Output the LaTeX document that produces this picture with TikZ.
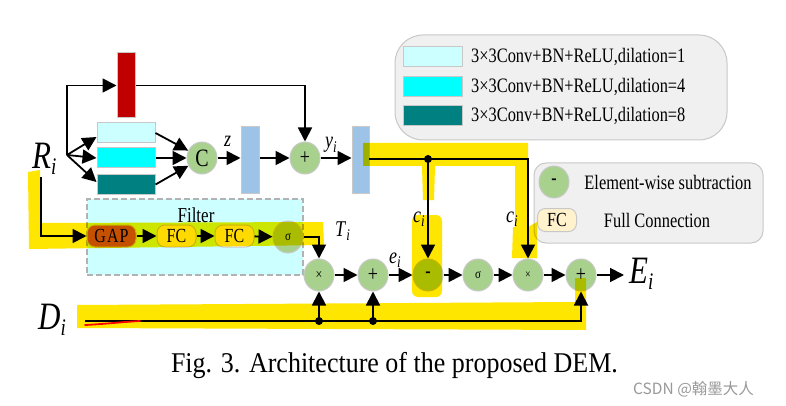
\documentclass[tikz,border=0pt]{standalone}
\usepackage{fontspec}
\setmainfont{Liberation Serif}
\newfontfamily\cjkfont{Noto Sans CJK SC}
\usepackage{graphicx}
\usetikzlibrary{shapes.geometric,arrows.meta}
\newcommand{\vs}[1]{\scalebox{1}[1.25]{#1}}
\newcommand{\fs}[1]{\fontsize{#1}{#1}\selectfont}
\newcommand{\lab}[2]{\vs{\fs{18}\textit{#1}\raisebox{-3.5pt}{\fs{13}\textit{#2}}}}
\newcommand{\biglab}[2]{\vs{\fs{31}\textit{#1}\raisebox{-5.5pt}{\fs{19}\textit{#2}}}}
\definecolor{cgreen}{RGB}{169,209,142}
\definecolor{lcyan}{RGB}{204,255,255}
\definecolor{ccyan}{RGB}{0,255,255}
\definecolor{cteal}{RGB}{0,128,128}
\definecolor{cred}{RGB}{192,0,0}
\definecolor{cblue}{RGB}{157,195,230}
\definecolor{cgap}{RGB}{197,90,17}
\definecolor{cfc}{RGB}{255,242,204}
\definecolor{clegend}{RGB}{240,240,240}
\definecolor{cborder}{RGB}{200,200,200}
\definecolor{hyel}{RGB}{255,230,0}
\begin{document}
\begin{tikzpicture}[x=1pt,y=-1pt,
  arr/.style={draw=black,line width=1.8pt,-{Triangle[length=14pt,width=14pt]}},
  circ/.style={ellipse,minimum width=30pt,minimum height=32pt,inner sep=0pt,fill=cgreen,draw=cborder,line width=1pt},
  bar/.style={rectangle,inner sep=0pt,draw=cborder,line width=1pt},
  convbox/.style={bar,minimum width=58pt,minimum height=20pt},
  pill/.style={rectangle,rounded corners=8pt,inner sep=0pt,minimum height=22pt,draw=cborder,line width=1pt},
  txt/.style={inner sep=0pt},
  dotc/.style={circle,fill=black,inner sep=0pt,minimum size=8pt}]
\useasboundingbox (0,0) rectangle (786,406);
\fill[white] (0,0) rectangle (786,406);

% legend 1
\node[draw=cborder,fill=clegend,line width=1pt,rounded corners=28pt,minimum width=332pt,minimum height=105pt,inner sep=0pt] (leg1) at (561,87.5) {};
\node[convbox,fill=lcyan,minimum width=59pt] (s1sw) at (432.5,57) {};
\node[convbox,fill=ccyan,minimum width=59pt] (s2sw) at (432.5,87) {};
\node[convbox,fill=cteal,minimum width=59pt] (s3sw) at (432.5,116) {};
\node[txt,anchor=west] (t1) at (471,57) {\vs{\fs{16.4}3×3Conv+BN+ReLU,dilation=1}};
\node[txt,anchor=west] (t2) at (471,87) {\vs{\fs{16.4}3×3Conv+BN+ReLU,dilation=4}};
\node[txt,anchor=west] (t3) at (471,116) {\vs{\fs{16.4}3×3Conv+BN+ReLU,dilation=8}};

% legend 2
\node[draw=cborder,fill=clegend,line width=1pt,rounded corners=12pt,minimum width=229pt,minimum height=80pt,inner sep=0pt] (leg2) at (648.5,203) {};
\node[circ] (lmi) at (554,182) {\vs{\fs{16}\bfseries -}};
\node[txt] (lt1) at (668,182) {\vs{\fs{16.4}Element-wise subtraction}};
\node[pill,fill=cfc,minimum width=39pt,minimum height=23pt] (lfc) at (557,220) {\vs{\fs{16}FC}};
\node[txt] (lt2) at (657,220) {\vs{\fs{16.4}Full Connection}};

% filter box
\node[rectangle,draw=black!30,dash pattern=on 6pt off 3pt,line width=1.2pt,fill=lcyan,minimum width=216pt,minimum height=76pt,inner sep=0pt] (filt) at (195,237) {};
\node[txt] (filtt) at (196,215) {\vs{\fs{17}Filter}};

% top part
\node[txt,anchor=base west] (Ri) at (32,168) {\biglab{R}{i}};
\coordinate (br) at (67,155);
\node[bar,fill=cred,minimum width=18pt,minimum height=65pt] (red) at (126,85.5) {};
\node[convbox,fill=lcyan] (c1) at (126,133) {};
\node[convbox,fill=ccyan] (c2) at (126,158) {};
\node[convbox,fill=cteal] (c3) at (126,184.5) {};
\node[circ] (C) at (202,158) {\vs{\fs{20}C}};
\node[bar,fill=cblue,minimum width=18pt,minimum height=66pt] (b1) at (250,160) {};
\node[circ] (p1) at (305,158) {\vs{\fs{18}+}};
\node[bar,fill=cblue,minimum width=17pt,minimum height=66pt] (b2) at (360.5,160) {};
\node[txt,anchor=base west] (zl) at (224,147) {\vs{\fs{18}\textit{z}}};
\node[txt,anchor=base west] (yl) at (325,148) {\lab{y}{i}};

\draw[arr] (br) |- (red.west);
\draw[arr] (red.east) -| (p1.north);
\draw[arr] (br) -- ([yshift=-4pt]c1.west);
\draw[arr] (br) -- (c2.west);
\draw[arr] (br) -- ([yshift=2.5pt]c3.west);
\draw[arr] (c1.east) -- (C);
\draw[arr] (c2.east) -- (C);
\draw[arr] (c3.east) -- (C);
\draw[arr] (C.east) -- (C.east -| b1.west);
\draw[arr] (b1.east |- p1) -- (p1.west);
\draw[arr] (p1.east) -- (p1.east -| b2.west);

% filter chain
\node[pill,fill=cgap,minimum width=49pt] (gap) at (111.5,236) {\vs{\fs{16}G\kern1ptA\kern1ptP}};
\node[pill,fill=cfc,minimum width=39pt] (fc1) at (176.5,236) {\vs{\fs{16}FC}};
\node[pill,fill=cfc,minimum width=39pt] (fc2) at (234.5,236) {\vs{\fs{16}FC}};
\node[circ] (s1) at (288,237) {\vs{\fs{11}σ}};
\coordinate (rs) at (41,177);
\draw[arr] (rs) |- (gap.west);
\draw[arr] (gap) -- (fc1);
\draw[arr] (fc1) -- (fc2);
\draw[arr] (fc2) -- (s1);
\node[txt,anchor=base west] (Tl) at (335,236) {\lab{T}{i}};

% main row
\node[circ] (m1) at (319,275) {\vs{\fs{12}×}};
\node[circ] (p2) at (373,275) {\vs{\fs{18}+}};
\node[circ] (mi) at (428,275) {\vs{\fs{16}\bfseries -}};
\node[circ] (s2) at (478,275) {\vs{\fs{11}σ}};
\node[circ] (m2) at (528,275) {\vs{\fs{10}×}};
\node[circ] (p3) at (581,275) {\vs{\fs{18}+}};
\node[txt,anchor=base west] (Ei) at (629,283) {\biglab{E}{i}};
\coordinate (ea) at (624,275);
\node[txt,anchor=base west] (el) at (389,263) {\lab{e}{i}};
\node[txt,anchor=base west] (cl1) at (413,222) {\lab{c}{i}};
\node[txt,anchor=base west] (cl2) at (506,222) {\lab{c}{i}};

\draw[arr] (s1.east) -| (m1.north);
\draw[arr] (m1) -- (p2);
\draw[arr] (p2) -- (mi);
\draw[arr] (mi) -- (s2);
\draw[arr] (s2) -- (m2);
\draw[arr] (m2) -- (p3);
\draw[arr] (p3.east) -- (ea);

\coordinate (b2o) at (369,159);
\coordinate (sp) at (428,159);
\draw[arr] (b2o) -| (m2.north);
\draw[arr] (sp) -- (mi.north);
\node[dotc] (spd) at (sp) {};

% D line
\node[txt,anchor=base west] (Di) at (38,329) {\biglab{D}{i}};
\coordinate (ds) at (85,321);
\coordinate (d1) at (319,321);
\coordinate (d2) at (373,321);
\draw[arr] (ds) -| (p3.south);
\draw[arr] (d1) -- (m1.south);
\draw[arr] (d2) -- (p2.south);
\node[dotc] (d1d) at (d1) {};
\node[dotc] (d2d) at (d2) {};

% caption and watermark
\node[txt,anchor=base] (cap) at (394.5,372) {\scalebox{1}[1.1]{\fs{26}Fig. 3. Architecture of the proposed DEM.}};
\node[txt,anchor=base west,text=black!40] (wm) at (633,394) {\fs{15.5}\cjkfont CSDN @翰墨大人};

% highlighter marks
\begin{scope}[blend mode=multiply]
\fill[hyel] (28,172) -- (40,170) -- (42,223) -- (323,222) -- (324,245) -- (29,249) -- cycle;
\fill[hyel] (363,143) -- (528,143) -- (528,227) -- (537,222) -- (537,258) -- (512,258) -- (513,227) -- (515,227) -- (515,166) -- (435,166) -- (434,200) -- (423,200) -- (422,166) -- (363,166) -- cycle;
\fill[hyel,rounded corners=6pt] (412,215) rectangle (442,297);
\fill[hyel] (77,305) -- (575,302) -- (575,278) -- (586,278) -- (586,330) -- (77,328) -- cycle;
\end{scope}
\draw[red,line width=1.8pt,line cap=round] (85,325) .. controls (105,324) and (122,322) .. (140,321);
\end{tikzpicture}
\end{document}
